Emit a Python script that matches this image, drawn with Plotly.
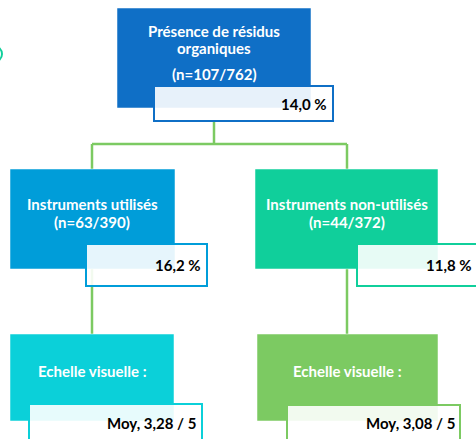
import plotly.graph_objects as go

# ---- data ----
node_titles = [["Présence de résidus", "organiques"], ["Instruments utilisés"],
               ["Instruments non-utilisés"], ["Echelle visuelle :"], ["Echelle visuelle :"]]
node_counts = ["(n=107/762)", "(n=63/390)", "(n=44/372)", "", ""]
pct_values = [14.0, 16.2, 11.8]
mean_values = [3.28, 3.08]
mean_scale = 5

value_labels = [f"{v:.1f}".replace(".", ",") + " %" for v in pct_values] + \
               [f"Moy. {m:.2f}".replace(".", ",") + f" / {mean_scale}" for m in mean_values]

# ---- layout geometry (pixels) ----
W, H = 476, 439
boxes = [(117, 8, 311, 108), (10, 169, 175, 269), (255, 169, 438, 269),
         (10, 334, 174, 421), (257, 334, 438, 421)]
label_boxes = [(154, 86, 333, 121), (86, 244, 207, 286), (357, 244, 495, 286),
               (29, 404, 202, 460), (287, 405, 460, 460)]
value_pos = [(329, 104, 0), (203, 265, 0), (474, 265, 0), (198, 423, 0), (457, 423, 0)]
title_pos = [(214, 31), (92, 204), (347, 204), (92, 371), (347, 371)]
title_step = 17
count_pos = [(214, 74), (92, 222), (347, 222), None, None]
colors = ["#0F6FC6", "#009DD9", "#10CF9B", "#0BD0D9", "#7CCA62"]
line_color = "#7CCA62"
connectors = [(214, 121, 214, 144), (92, 144, 347, 144), (92, 144, 92, 169),
              (347, 144, 347, 169), (92, 269, 92, 334), (347, 269, 347, 334)]

FONT = "Lato"
FS = 15

fig = go.Figure()
shapes = []
annotations = []

for x0, y0, x1, y1 in connectors:
    shapes.append(dict(type="line", x0=x0, y0=y0, x1=x1, y1=y1, xref="x", yref="y",
                       line=dict(color=line_color, width=2.5)))

for (x0, y0, x1, y1), c in zip(boxes, colors):
    shapes.append(dict(type="rect", x0=x0, y0=y0, x1=x1, y1=y1, xref="x", yref="y",
                       fillcolor=c, line=dict(color="rgba(255,255,255,0.5)", width=1)))

for (x0, y0, x1, y1), c in zip(label_boxes, colors):
    shapes.append(dict(type="rect", x0=x0, y0=y0, x1=x1, y1=y1, xref="x", yref="y",
                       fillcolor="rgba(255,255,255,0.9)", line=dict(color=c, width=2)))

# small partial circle at the left edge
shapes.append(dict(type="circle", x0=-14, y0=46, x1=2, y1=62, xref="x", yref="y",
                   fillcolor="rgba(0,0,0,0)", line=dict(color="#10CF9B", width=2)))

for i, lines in enumerate(node_titles):
    x, y = title_pos[i]
    for j, t in enumerate(lines):
        annotations.append(dict(x=x, y=y + j * title_step, text=f"<b>{t}</b>", showarrow=False,
                                xref="x", yref="y", xanchor="center", yanchor="middle",
                                font=dict(family=FONT, size=FS, color="white")))
    if count_pos[i] is not None:
        cx, cy = count_pos[i]
        annotations.append(dict(x=cx, y=cy, text=f"<b>{node_counts[i]}</b>", showarrow=False,
                                xref="x", yref="y", xanchor="center", yanchor="middle",
                                font=dict(family=FONT, size=FS, color="white")))

for i, v in enumerate(value_labels):
    x, y, xs = value_pos[i]
    annotations.append(dict(x=x, y=y, xshift=xs, text=f"<b>{v}</b>", showarrow=False,
                            xref="x", yref="y", xanchor="right", yanchor="middle",
                            font=dict(family=FONT, size=FS, color="black")))

fig.update_layout(
    width=W, height=H, margin=dict(l=0, r=0, t=0, b=0),
    paper_bgcolor="white", plot_bgcolor="white",
    xaxis=dict(range=[0, W], visible=False, fixedrange=True),
    yaxis=dict(range=[H, 0], visible=False, fixedrange=True),
    shapes=shapes, annotations=annotations, showlegend=False,
)

fig.write_html("out.html", config={"displayModeBar": False},
               post_script="document.body.style.margin='0';document.body.style.overflow='hidden';")
